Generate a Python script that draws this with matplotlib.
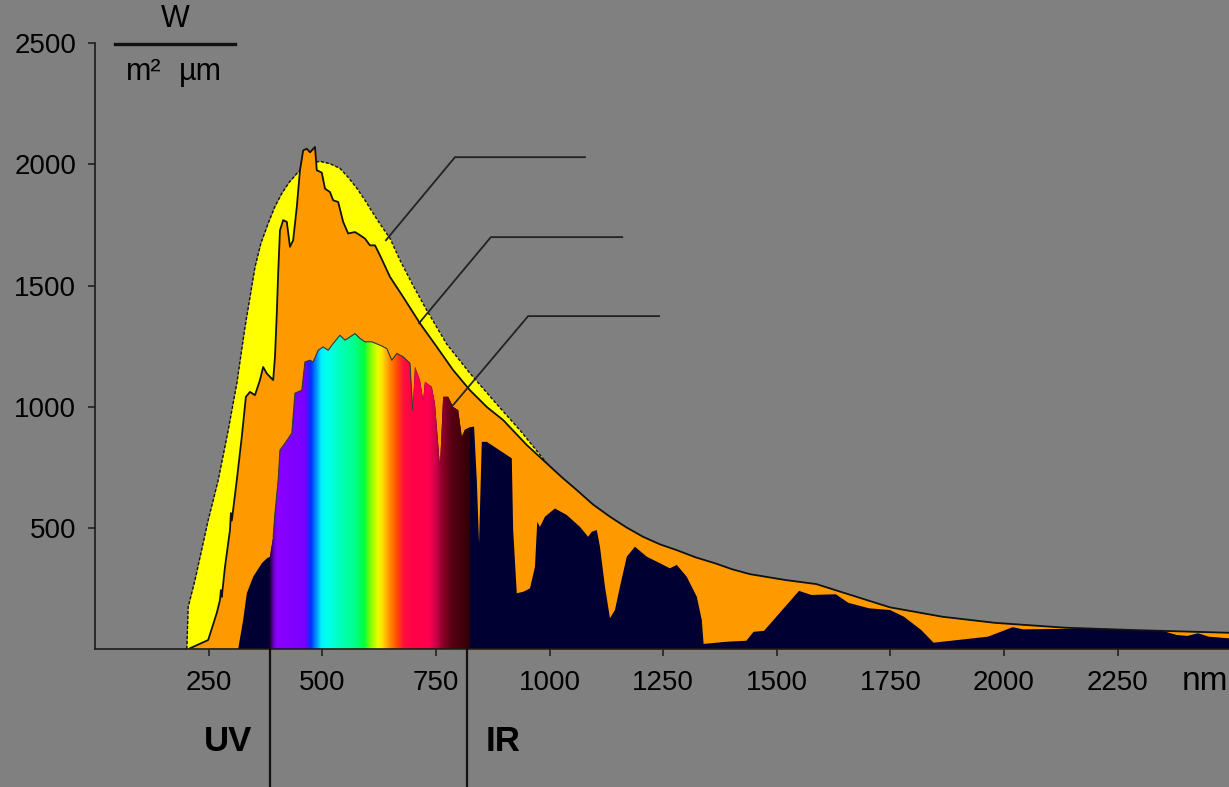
import numpy as np
import matplotlib
matplotlib.use('Agg')
import matplotlib.pyplot as plt
from matplotlib.colors import LinearSegmentedColormap
from matplotlib.patches import Polygon
from matplotlib.lines import Line2D

plt.rcParams['font.family'] = ['Liberation Sans', 'DejaVu Sans']

# ---------------- data ----------------
# black-body curve (yellow area, dotted outline)
bb_nm = [202, 205, 220, 249, 271, 293, 312, 330, 352, 365, 381, 395, 411, 427, 447, 464,
         484, 495, 517, 539, 557, 576, 594, 612, 629, 649, 671, 697, 730, 774, 825, 880,
         935, 994]
bb_val = [0, 174, 285, 532, 697, 903, 1097, 1329, 1577, 1675, 1757, 1823, 1881, 1926, 1969, 1992,
          2009, 2013, 2003, 1984, 1947, 1902, 1852, 1798, 1749, 1695, 1605, 1510, 1398, 1258, 1138, 1019,
          903, 767]

# top of atmosphere (orange area, solid outline)
toa_nm = [209, 249, 268, 275, 277, 279, 286, 297, 299, 301, 312, 323, 332, 341, 352,
          363, 370, 378, 392, 396, 400, 403, 407, 414, 422, 429, 436, 444, 451,
          458, 466, 473, 484, 488, 499, 506, 517, 524, 535, 546, 557, 572, 583,
          594, 605, 616, 627, 649, 678, 715, 752, 788, 825, 862, 898, 950, 994,
          1027, 1060, 1096, 1133, 1170, 1206, 1243, 1280, 1322, 1364, 1402, 1441, 1518,
          1587, 1634, 1749, 1865, 1980, 2134, 2288, 2495]
toa_val = [3, 37, 149, 202, 243, 215, 339, 491, 561, 530, 697, 876, 1041, 1061, 1048,
           1110, 1164, 1137, 1110, 1206, 1385, 1550, 1728, 1770, 1763, 1660, 1687, 1824, 1976,
           2058, 2065, 2050, 2072, 1976, 1966, 1900, 1886, 1852, 1845, 1763, 1715, 1721, 1708,
           1694, 1666, 1666, 1625, 1536, 1453, 1344, 1247, 1151, 1068, 999, 945, 842, 766,
           709, 656, 596, 546, 501, 463, 432, 408, 378, 354, 329, 309, 285,
           268, 240, 172, 133, 108, 88, 78, 67]

# sea level (navy area with visible-light rainbow)
sl_nm = [315, 326, 334, 348, 367, 378, 385, 392, 396, 403, 407, 418, 433, 440, 455,
         462, 473, 480, 491, 502, 513, 524, 539, 550, 561, 572, 583, 594, 609, 627,
         642, 653, 664, 678, 693, 699, 704, 715, 722, 726, 741, 748, 759, 766, 777,
         788, 799, 807, 814, 825, 834, 840, 845, 851, 862, 917, 920, 928, 942, 957,
         968, 973, 979, 990, 1012, 1038, 1067, 1085, 1093, 1104, 1111, 1122, 1133,
         1144, 1155, 1170, 1188, 1214, 1243, 1265, 1280, 1302, 1324, 1335, 1339,
         1390, 1433, 1449, 1472, 1549, 1576, 1630, 1657, 1703, 1749, 1780, 1818,
         1845, 1965, 2019, 2042, 2173, 2350, 2380, 2403, 2427, 2450, 2495]
sl_val = [0, 120, 230, 298, 354, 374, 381, 463, 561, 697, 821, 849, 891, 1056, 1068,
          1185, 1192, 1185, 1233, 1247, 1233, 1261, 1295, 1275, 1288, 1302, 1282, 1268, 1268, 1254,
          1240, 1192, 1220, 1206, 1179, 986, 1165, 1110, 1027, 1103, 1082, 1013, 752, 1041, 1041,
          999, 986, 876, 905, 915, 918, 697, 436, 855, 855, 787, 491, 230, 236, 250,
          339, 525, 504, 546, 580, 553, 504, 463, 484, 491, 422, 257, 127,
          161, 257, 381, 422, 381, 354, 333, 347, 298, 216, 120, 21,
          30, 34, 71, 75, 240, 223, 226, 191, 168, 161, 133, 78,
          26, 51, 90, 81, 84, 74, 58, 54, 65, 51, 44]

# colour stops of the visible band (wavelength nm, colour)
rainbow_nm = [385, 392, 400, 462, 474, 486, 497, 510, 540, 570, 592, 606, 622, 632,
              648, 665, 680, 700, 735, 750, 765, 785, 805, 825]
rainbow_col = ['#2a0040', '#6a00c8', '#8a00ff', '#7800ff', '#0030ff', '#0090ff', '#00f0ff',
               '#00ffee', '#00ffb8', '#00ff90', '#00ff40', '#80ff00', '#e8ff00', '#ffe000',
               '#ff9000', '#ff4a00', '#ff1040', '#ff0048', '#ff0050', '#d0004a', '#900028',
               '#5a0015', '#45000c', '#300008']

xticks = [250, 500, 750, 1000, 1250, 1500, 1750, 2000, 2250]
yticks = [500, 1000, 1500, 2000, 2500]
uv_ir_bounds = [386, 818]

# ---------------- figure ----------------
BG = '#808080'
W, H = 1229, 787
fig = plt.figure(figsize=(W / 100, H / 100), dpi=100, facecolor=BG)
ax = fig.add_axes([95 / W, (H - 649) / H, (W - 95) / W, (649 - 43.3) / H])
ax.set_facecolor(BG)

# yellow black-body
ax.fill_between(bb_nm, bb_val, color='#ffff00', lw=0, zorder=1)
ax.plot(bb_nm, bb_val, color='#111111', lw=1.0, ls=(0, (2.2, 1.4)), zorder=2)

# orange top of atmosphere
ax.fill_between(toa_nm, toa_val, color='#ff9900', lw=0, zorder=3)

# sea level
verts = list(zip(sl_nm, sl_val)) + [(sl_nm[-1], 0), (sl_nm[0], 0)]
poly = Polygon(verts, closed=True, facecolor='#000033', edgecolor='none', zorder=4)
ax.add_patch(poly)

lo, hi = rainbow_nm[0], rainbow_nm[-1]
cmap = LinearSegmentedColormap.from_list(
    'spec', [((w - lo) / (hi - lo), c) for w, c in zip(rainbow_nm, rainbow_col)])
grad = np.linspace(0, 1, 800).reshape(1, -1)
im = ax.imshow(grad, cmap=cmap, extent=(lo, hi, 0, 2500), aspect='auto',
               origin='lower', zorder=5, interpolation='bilinear')
im.set_clip_path(poly)

vis = [(w, v) for w, v in zip(sl_nm, sl_val) if 390 <= w <= 700]
ax.plot([p[0] for p in vis], [p[1] for p in vis], color='#3a3a3a', lw=0.8, zorder=6)

ax.plot(toa_nm, toa_val, color='#111111', lw=1.3, zorder=7)

ax.set_xlim(0, 2495)
ax.set_ylim(0, 2500)

# axes styling
for s in ['top', 'right']:
    ax.spines[s].set_visible(False)
for s in ['left', 'bottom']:
    ax.spines[s].set_color('#1a1a1a')
    ax.spines[s].set_linewidth(1.2)
    ax.spines[s].set_zorder(8)
ax.set_xticks(xticks)
ax.set_yticks(yticks)
ax.set_xticklabels([str(t) for t in xticks])
ax.set_yticklabels([str(t) for t in yticks])
ax.tick_params(axis='both', direction='out', length=5, width=1.1, color='#1a1a1a',
               labelsize=20, labelcolor='black')
ax.tick_params(axis='x', pad=10)
ax.tick_params(axis='y', pad=8.5)

ax.text(2442, -136, 'nm', fontsize=24, ha='center', va='center', clip_on=False)

# UV / IR markers
for xb in uv_ir_bounds:
    ax.plot([xb, xb], [0, -700], color='#111111', lw=1.6, clip_on=False, zorder=9)
ax.text(293, -380, 'UV', fontsize=25, fontweight='bold', ha='center', va='center', clip_on=False)
ax.text(898, -380, 'IR', fontsize=25, fontweight='bold', ha='center', va='center', clip_on=False)

# leader lines
leaders = [[(640, 1687), (792, 2030), (1078, 2030)],
           [(713, 1345), (871, 1700), (1160, 1700)],
           [(788, 1007), (953, 1374), (1241, 1374)]]
for pts in leaders:
    ax.plot([p[0] for p in pts], [p[1] for p in pts], color='#222222', lw=1.3,
            clip_on=False, zorder=10)

# unit label
fig.text(175 / W, 1 - 19 / H, 'W', fontsize=22, ha='center', va='center')
fig.text(143.5 / W, 1 - 72 / H, 'm²', fontsize=22, ha='center', va='center')
fig.text(200 / W, 1 - 72 / H, 'µm', fontsize=22, ha='center', va='center')
fig.add_artist(Line2D([115 / W, 235 / W], [1 - 43.5 / H] * 2, transform=fig.transFigure,
                      color='#111111', lw=2.4))

fig.savefig('out.png', dpi=100, facecolor=BG)
